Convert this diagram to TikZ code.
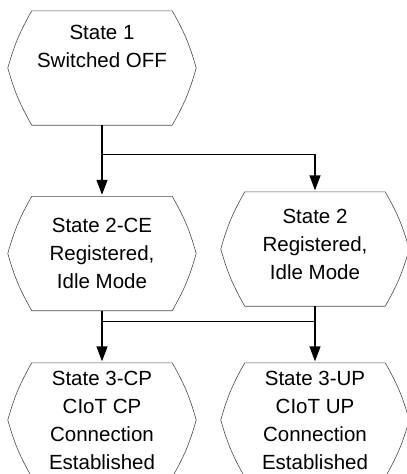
\documentclass[tikz,border=0pt]{standalone}
\usepackage{fontspec}
\setmainfont{Liberation Sans}
\usetikzlibrary{arrows.meta,positioning,calc}

\begin{document}
\begin{tikzpicture}[x=1pt, y=1pt,
    statenode/.style={minimum width=188pt, minimum height=114pt, inner sep=0pt,
        align=center, font=\fontsize{20.5}{28}\selectfont,
        append after command={\pgfextra{\begin{pgfinterruptpath}
            \draw[black!70, line width=0.6pt]
                ([xshift=24pt]\tikzlastnode.north west) -- ([xshift=-24pt]\tikzlastnode.north east)
                to[bend left=7] (\tikzlastnode.east)
                to[bend left=7] ([xshift=-24pt]\tikzlastnode.south east)
                -- ([xshift=24pt]\tikzlastnode.south west)
                to[bend left=7] (\tikzlastnode.west)
                to[bend left=7] ([xshift=24pt]\tikzlastnode.north west) -- cycle;
        \end{pgfinterruptpath}}}},
    wire/.style={line width=1.4pt},
    ptr/.style={wire, -{Triangle[length=15pt,width=11pt]}, shorten >=1.5pt}
]
    \useasboundingbox (0,0) rectangle (407,-474);

    % Switched off
    \node[statenode, text depth=43pt] (s1) at (102,-68) {State 1\\Switched OFF};

    % Registered, idle
    \node[statenode] (s2ce) at (102,-253.5) {State 2-CE\\Registered,\\Idle Mode};
    \node[statenode, text depth=9pt] (s2) at (315,-249) {State 2\\Registered,\\Idle Mode};

    % Connected
    \node[statenode] (s3cp) at (102,-420) {State 3-CP\\CIoT CP\\Connection\\Established};
    \node[statenode] (s3up) at (315,-420) {State 3-UP\\CIoT UP\\Connection\\Established};

    \coordinate (j1) at ($(s1.south)+(0,-29)$);
    \coordinate (j2) at ($(s2ce.south)+(0,-11)$);

    \draw[ptr] (s1.south) -- (s2ce.north);
    \draw[ptr] (j1) -| (s2.north);
    \draw[ptr] (s2ce.south) -- (s3cp.north);
    \draw[ptr] (s2.south) -- (s3up.north);
    \draw[wire] (j2) -| (s2.south);
\end{tikzpicture}
\end{document}
